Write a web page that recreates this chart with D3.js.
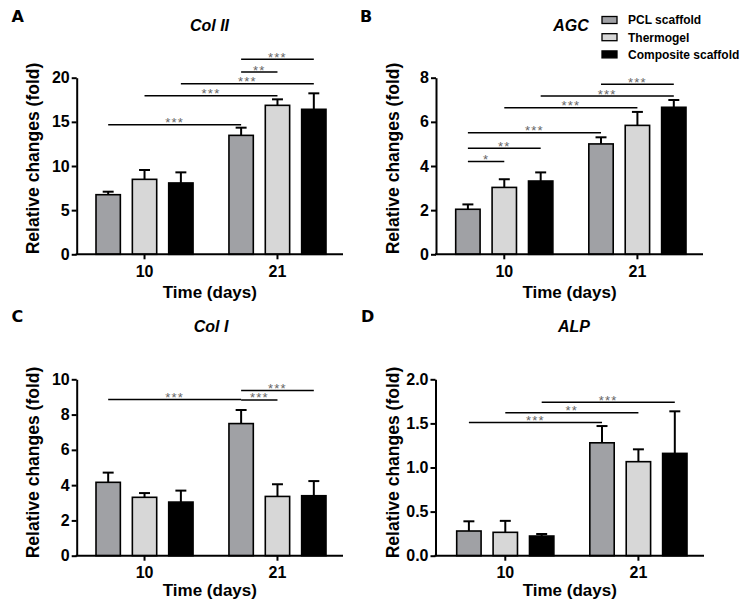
<!DOCTYPE html>
<html>
<head>
<meta charset="utf-8">
<script src="https://cdn.jsdelivr.net/npm/d3@7"></script>
<style>
  html, body { margin: 0; padding: 0; background: #fff; }
  svg { display: block; }
  text { font-family: Arial, "Liberation Sans", sans-serif; }
</style>
</head>
<body>
<script>
// ---------- DATA ----------
const groups = ["10", "21"];
const series = ["PCL scaffold", "Thermogel", "Composite scaffold"];
const seriesColors = ["#a0a1a5", "#d7d7d7", "#000000"];

// means / SD indexed [series][group]
const colIIMean = [[6.75, 13.47], [8.49, 16.87], [8.08, 16.42]];
const colIISD   = [[0.34, 0.87],  [1.06, 0.68],  [1.20, 1.81]];
const agcMean   = [[2.04, 5.00],  [3.03, 5.84],  [3.32, 6.66]];
const agcSD     = [[0.22, 0.30],  [0.37, 0.61],  [0.39, 0.33]];
const colIMean  = [[4.16, 7.49],  [3.31, 3.36],  [3.04, 3.40]];
const colISD    = [[0.55, 0.77],  [0.24, 0.69],  [0.65, 0.83]];
const alpMean   = [[0.28, 1.28],  [0.265, 1.066], [0.223, 1.16]];
const alpSD     = [[0.11, 0.19],  [0.13, 0.14],  [0.023, 0.477]];

// significance brackets: [group1, series1, group2, series2, yValue, label]
const colIISig = [
  [0, 0, 1, 0, 14.68, "***"],
  [0, 1, 1, 1, 17.96, "***"],
  [0, 2, 1, 2, 19.32, "***"],
  [1, 0, 1, 1, 20.64, "**"],
  [1, 0, 1, 2, 22.08, "***"]
];
const agcSig = [
  [0, 0, 0, 1, 4.20, "*"],
  [0, 0, 0, 2, 4.80, "**"],
  [0, 0, 1, 0, 5.51, "***"],
  [0, 1, 1, 1, 6.64, "***"],
  [0, 2, 1, 2, 7.17, "***"],
  [1, 0, 1, 2, 7.70, "***"]
];
const colISig = [
  [0, 0, 1, 0, 8.85, "***"],
  [1, 0, 1, 1, 8.83, "***"],
  [1, 0, 1, 2, 9.36, "***"]
];
const alpSig = [
  [0, 0, 1, 0, 1.51, "***"],
  [0, 1, 1, 1, 1.62, "**"],
  [0, 2, 1, 2, 1.74, "***"]
];

const colIITicks = [0, 5, 10, 15, 20];
const agcTicks   = [0, 2, 4, 6, 8];
const colITicks  = [0, 2, 4, 6, 8, 10];
const alpTicks   = [0, 0.5, 1.0, 1.5, 2.0];

const xTitle = "Time (days)";
const yTitle = "Relative changes (fold)";

// ---------- LAYOUT ----------
const panels = [
  { letter: "A", title: "Col II", mean: colIIMean, sd: colIISD, sig: colIISig, ticks: colIITicks, fmt: d3.format("d"),
    axisX: 76.7, axisEnd: 343, barL: 96, barR: 326, yTop: 77.7, yBot: 254.3,
    letterXY: [11.5, 21.7], titleXY: [209.5, 31], yLabXY: [38.5, 158.5], xLabY: 297.5 },
  { letter: "B", title: "AGC", mean: agcMean, sd: agcSD, sig: agcSig, ticks: agcTicks, fmt: d3.format("d"),
    axisX: 436, axisEnd: 703, barL: 455.7, barR: 686, yTop: 77.7, yBot: 254.3,
    letterXY: [360, 21.7], titleXY: [571, 31], yLabXY: [398.5, 158.5], xLabY: 297.5 },
  { letter: "C", title: "Col I", mean: colIMean, sd: colISD, sig: colISig, ticks: colITicks, fmt: d3.format("d"),
    axisX: 76.7, axisEnd: 343, barL: 96, barR: 326, yTop: 379.3, yBot: 555.7,
    letterXY: [11.5, 321.7], titleXY: [211, 331.5], yLabXY: [38.5, 462.5], xLabY: 595.5 },
  { letter: "D", title: "ALP", mean: alpMean, sd: alpSD, sig: alpSig, ticks: alpTicks, fmt: d3.format(".1f"),
    axisX: 435.5, axisEnd: 704, barL: 456.7, barR: 687, yTop: 379.3, yBot: 555.7,
    letterXY: [361, 321.7], titleXY: [574, 331.5], yLabXY: [399, 462.5], xLabY: 595.5 }
];

const W = 744, H = 612;
const svg = d3.select("body").append("svg").attr("width", W).attr("height", H);
svg.append("rect").attr("width", W).attr("height", H).attr("fill", "#fff");

panels.forEach(p => {
  const g = svg.append("g");
  const y = d3.scaleLinear().domain([0, d3.max(p.ticks)]).range([p.yBot, p.yTop]);
  const xg = d3.scaleBand().domain(groups).range([p.barL, p.barR]).paddingInner(0.27).paddingOuter(0);
  const xs = d3.scaleBand().domain(d3.range(series.length)).range([0, xg.bandwidth()]).paddingInner(0.33).paddingOuter(0);
  const cx = (gi, si) => xg(groups[gi]) + xs(si) + xs.bandwidth() / 2;

  const cells = [];
  series.forEach((s, si) => groups.forEach((gr, gi) => cells.push({ si, gi, m: p.mean[si][gi], e: p.sd[si][gi] })));

  // error bars
  const capW = xs.bandwidth() * 0.45;
  cells.forEach(c => {
    const x = cx(c.gi, c.si);
    g.append("line").attr("x1", x).attr("x2", x).attr("y1", y(c.m)).attr("y2", y(c.m + c.e))
      .attr("stroke", "#000").attr("stroke-width", 2);
    g.append("line").attr("x1", x - capW / 2).attr("x2", x + capW / 2).attr("y1", y(c.m + c.e)).attr("y2", y(c.m + c.e))
      .attr("stroke", "#000").attr("stroke-width", 2);
  });
  // bars
  g.selectAll("rect.bar").data(cells).enter().append("rect")
    .attr("class", "bar")
    .attr("x", d => xg(groups[d.gi]) + xs(d.si))
    .attr("width", xs.bandwidth())
    .attr("y", d => y(d.m))
    .attr("height", d => y(0) - y(d.m))
    .attr("fill", d => seriesColors[d.si])
    .attr("stroke", "#000").attr("stroke-width", 1.6);

  // y axis
  const ya = g.append("g").attr("transform", `translate(${p.axisX},0)`)
    .call(d3.axisLeft(y).tickValues(p.ticks).tickFormat(p.fmt).tickSize(5).tickSizeOuter(0).tickPadding(2));
  ya.select(".domain").attr("stroke-width", 2);
  ya.selectAll(".tick line").attr("stroke-width", 2);
  ya.selectAll(".tick text").attr("font-size", 16).attr("font-weight", "bold").attr("fill", "#000")
    .style("font-family", "Arial, 'Liberation Sans', sans-serif");

  // x axis
  g.append("line").attr("x1", p.axisX - 1).attr("x2", p.axisEnd).attr("y1", y(0)).attr("y2", y(0))
    .attr("stroke", "#000").attr("stroke-width", 2);
  const xa = g.append("g").attr("transform", `translate(0,${y(0)})`)
    .call(d3.axisBottom(xg).tickSize(5).tickPadding(6));
  xa.select(".domain").remove();
  xa.selectAll(".tick line").attr("stroke-width", 2);
  xa.selectAll(".tick text").attr("font-size", 16).attr("font-weight", "bold").attr("fill", "#000")
    .style("font-family", "Arial, 'Liberation Sans', sans-serif");

  // significance brackets
  p.sig.forEach(s => {
    const x1 = cx(s[0], s[1]), x2 = cx(s[2], s[3]), yy = y(s[4]);
    g.append("line").attr("x1", x1).attr("x2", x2).attr("y1", yy).attr("y2", yy)
      .attr("stroke", "#000").attr("stroke-width", 1.5);
    g.append("text").attr("x", (x1 + x2) / 2).attr("y", yy + 2.5)
      .attr("text-anchor", "middle").attr("font-size", 13).attr("fill", "#666")
      .attr("letter-spacing", 1.2).text(s[5]);
  });

  // titles
  g.append("text").attr("x", p.titleXY[0]).attr("y", p.titleXY[1]).attr("text-anchor", "middle")
    .attr("font-size", 16).attr("font-weight", "bold").attr("font-style", "italic").text(p.title);
  g.append("text").attr("x", p.letterXY[0]).attr("y", p.letterXY[1])
    .style("font-family", "'DejaVu Sans', sans-serif")
    .attr("font-size", 16).attr("font-weight", "bold").text(p.letter);
  g.append("text").attr("x", (p.axisX + p.axisEnd) / 2).attr("y", p.xLabY).attr("text-anchor", "middle")
    .attr("font-size", 17).attr("font-weight", "bold").text(xTitle);
  g.append("text").attr("transform", `translate(${p.yLabXY[0]},${p.yLabXY[1]}) rotate(-90)`)
    .attr("text-anchor", "middle").attr("font-size", 17.5).attr("font-weight", "bold").text(yTitle);
});

// legend
const legend = svg.append("g");
series.forEach((s, i) => {
  const cy = 20 + i * 17.2;
  legend.append("rect").attr("x", 602).attr("y", cy - 3.5).attr("width", 15).attr("height", 7)
    .attr("fill", seriesColors[i]).attr("stroke", "#000").attr("stroke-width", 1.3);
  legend.append("text").attr("x", 628).attr("y", cy + 4.3).attr("font-size", 12).attr("font-weight", "bold").text(s);
});
</script>
</body>
</html>
